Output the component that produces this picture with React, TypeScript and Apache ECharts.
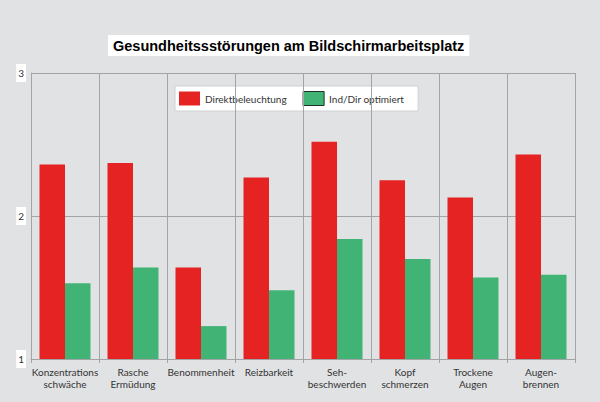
import React, { useEffect, useRef } from "react";
import * as echarts from "echarts";

const categories = [
  "Konzentrations\nschwäche",
  "Rasche\nErmüdung",
  "Benommenheit",
  "Reizbarkeit",
  "Seh-\nbeschwerden",
  "Kopf\nschmerzen",
  "Trockene\nAugen",
  "Augen-\nbrennen",
];
const seriesNames = ["Direktbeleuchtung", "Ind/Dir optimiert"];
const direktValues = [2.36, 2.37, 1.64, 2.27, 2.52, 2.25, 2.13, 2.43];
const optimiertValues = [1.53, 1.64, 1.23, 1.48, 1.84, 1.70, 1.57, 1.59];
const yTicks = { min: 1, max: 3, interval: 1 };
const titleText = "Gesundheitssstörungen am Bildschirmarbeitsplatz";

const RED = "#e62323";
const GREEN = "#41b475";
const GRIDC = "#a3a4a6";
const NARROW = "Lato, 'Liberation Sans Narrow', 'Liberation Sans', sans-serif";

export default function App() {
  const ref = useRef<HTMLDivElement>(null);
  useEffect(() => {
    document.body.style.margin = "0";
    if (!ref.current) return;
    const chart = echarts.init(ref.current, null, { renderer: "svg" });
    chart.setOption({
      animation: false,
      backgroundColor: "#e1e2e4",
      title: {
        text: titleText,
        left: 108,
        top: 35,
        padding: [3, 5, 3, 5],
        backgroundColor: "#ffffff",
        textStyle: {
          fontFamily: "'Liberation Sans', Arial, sans-serif",
          fontWeight: "bold",
          fontSize: 14.5,
          color: "#000",
        },
      },
      legend: {
        left: 175,
        top: 86,
        z: 0,
        padding: [5, 14, 5, 4],
        backgroundColor: "#ffffff",
        borderColor: "#cfd0d2",
        borderWidth: 1,
        itemWidth: 21,
        itemHeight: 14,
        itemGap: 16,
        textStyle: { fontFamily: NARROW, fontSize: 10, color: "#333" },
        data: [
          { name: seriesNames[0], icon: "rect" },
          {
            name: seriesNames[1],
            icon: "rect",
            itemStyle: { borderColor: "#1c3327", borderWidth: 1 },
          },
        ],
      },
      grid: { left: 31, right: 25, top: 73, bottom: 43 },
      xAxis: {
        type: "category",
        data: categories,
        z: 2,
        axisLine: { show: true, lineStyle: { color: GRIDC, width: 1 } },
        axisTick: { show: true, length: 4, lineStyle: { color: GRIDC } },
        splitLine: { show: true, lineStyle: { color: GRIDC, width: 1 } },
        axisLabel: {
          fontFamily: NARROW,
          fontSize: 10,
          color: "#333",
          margin: 7,
          lineHeight: 12,
          interval: 0,
        },
      },
      yAxis: {
        type: "value",
        min: yTicks.min,
        max: yTicks.max,
        interval: yTicks.interval,
        z: 2,
        axisLine: { show: true, lineStyle: { color: GRIDC, width: 1 } },
        axisTick: { show: false },
        splitLine: { show: true, lineStyle: { color: GRIDC, width: 1 } },
        axisLabel: {
          fontFamily: NARROW,
          fontSize: 10,
          color: "#333",
          margin: 5,
          backgroundColor: "#ffffff",
          padding: [4, 2, 4, 2],
        },
      },
      series: [
        {
          name: seriesNames[0],
          type: "bar",
          data: direktValues,
          itemStyle: { color: RED },
          barGap: "0%",
          barCategoryGap: "25%",
        },
        {
          name: seriesNames[1],
          type: "bar",
          data: optimiertValues,
          itemStyle: { color: GREEN },
          barGap: "0%",
          barCategoryGap: "25%",
        },
      ],
    });
    return () => chart.dispose();
  }, []);
  return <div ref={ref} style={{ width: 600, height: 402 }} />;
}
